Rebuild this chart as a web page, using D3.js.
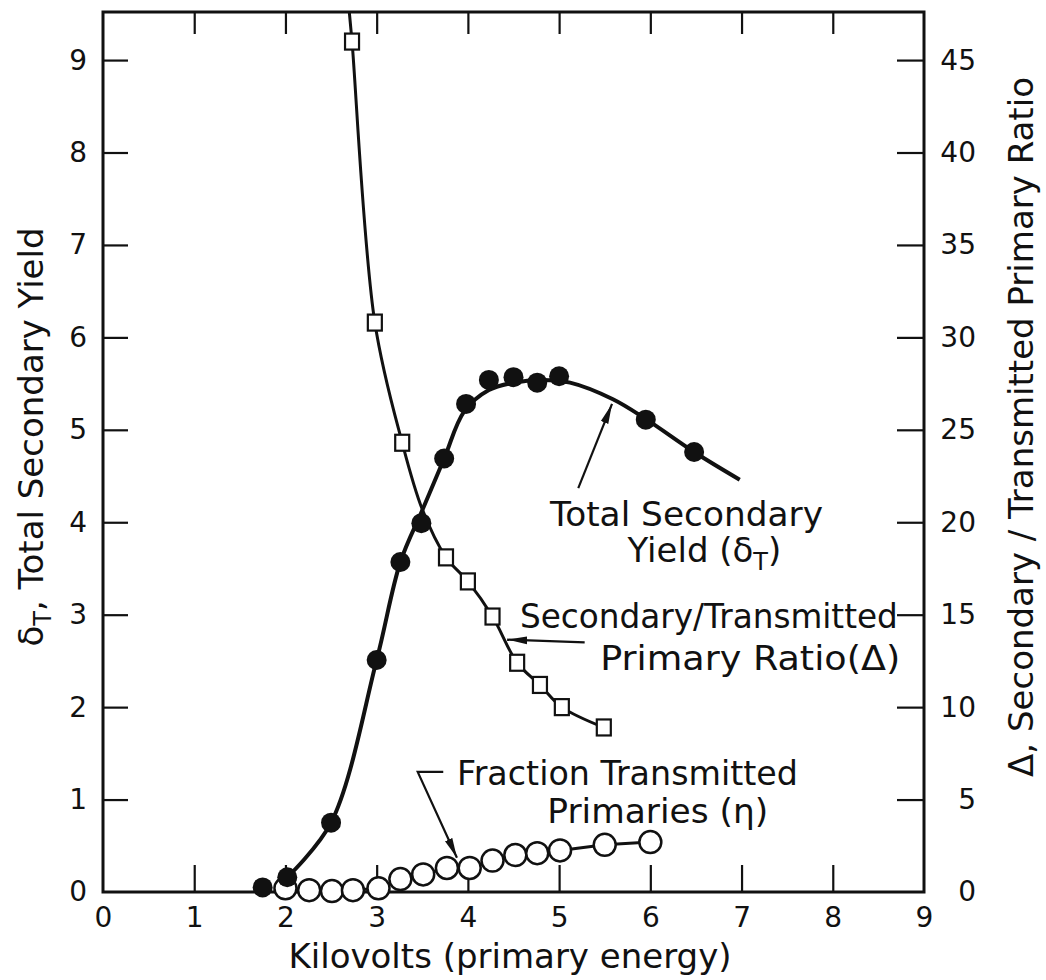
<!DOCTYPE html>
<html lang="en">
<head>
    <meta charset="UTF-8">
    <title>Secondary yield</title>
    <script src="https://d3js.org/d3.v7.min.js"></script>
    <style>
        body { margin: 0; background: #fff; }
        text {
            font-family: 'DejaVu Sans', sans-serif;
            fill: #111;
        }
        .tick text { font-size: 28px; }
        .tick line { stroke: #111; stroke-width: 2.2; }
    </style>
</head>
<body>
<script>
    const width  = 1046;
    const height = 980;

    // axes
    const xTicks     = [0, 1, 2, 3, 4, 5, 6, 7, 8, 9];
    const leftTicks  = [0, 1, 2, 3, 4, 5, 6, 7, 8, 9];
    const rightTicks = [0, 5, 10, 15, 20, 25, 30, 35, 40, 45];

    // total secondary yield (filled circles), left axis
    const yieldKV  = [1.75, 2.02, 2.5, 3.0, 3.26, 3.49, 3.74, 3.98, 4.23, 4.5, 4.76, 5.0, 5.95, 6.48];
    const yieldVal = [0.05, 0.16, 0.75, 2.51, 3.57, 3.99, 4.69, 5.28, 5.54, 5.57, 5.51, 5.58, 5.11, 4.76];
    // drawn curve through the yield points
    const yieldCurveKV  = [2.02, 2.5, 3.0, 3.26, 3.5, 3.74, 3.96, 4.23, 4.5, 4.8, 5.12, 5.59, 5.96, 6.48, 6.98];
    const yieldCurveVal = [0.16, 0.75, 2.51, 3.57, 4.13, 4.69, 5.2, 5.43, 5.51, 5.54, 5.51, 5.33, 5.11, 4.76, 4.46];

    // secondary / transmitted primary ratio (squares), right axis
    const deltaKV  = [2.73, 2.98, 3.28, 3.76, 4.0, 4.27, 4.54, 4.79, 5.03, 5.49];
    const deltaVal = [46.0, 30.8, 24.3, 18.1, 16.8, 14.9, 12.4, 11.2, 10.0, 8.9];
    const deltaCurveKV  = [2.70, 2.73, 2.98, 3.28, 3.5, 3.76, 4.0, 4.27, 4.54, 4.79, 5.03, 5.49];
    const deltaCurveVal = [47.6, 46.0, 30.8, 24.3, 20.7, 18.1, 16.8, 14.9, 12.4, 11.2, 10.0, 8.9];

    // fraction transmitted primaries (open circles), left axis
    const etaKV  = [2.0, 2.26, 2.51, 2.74, 3.02, 3.26, 3.51, 3.77, 4.02, 4.27, 4.52, 4.76, 5.01, 5.5, 6.0];
    const etaVal = [0.04, 0.02, 0.01, 0.02, 0.04, 0.14, 0.19, 0.26, 0.26, 0.34, 0.40, 0.42, 0.45, 0.51, 0.54];

    const x = d3.scaleLinear().domain([0, 9]).range([103, 924]);
    const yL = d3.scaleLinear().domain([0, 9.52]).range([892, 12]);
    const yR = d3.scaleLinear().domain([0, 47.6]).range([892, 12]);

    const zip = (a, b) => a.map((d, i) => [d, b[i]]);

    const svg = d3.select("body").append("svg").attr("width", width).attr("height", height);

    const defs = svg.append("defs");
    defs.append("marker")
        .attr("id", "head")
        .attr("viewBox", "0 0 20 10")
        .attr("refX", 20).attr("refY", 5)
        .attr("markerWidth", 20).attr("markerHeight", 10)
        .attr("markerUnits", "userSpaceOnUse")
        .attr("orient", "auto")
        .append("path").attr("d", "M0,1 L20,5 L0,9 Z").attr("fill", "#111");

    // frame
    svg.append("rect")
        .attr("x", x(0)).attr("y", yL(9.52))
        .attr("width", x(9) - x(0)).attr("height", yL(0) - yL(9.52))
        .attr("fill", "none").attr("stroke", "#111").attr("stroke-width", 3);

    const gx = svg.append("g").attr("transform", "translate(0," + yL(0) + ")")
        .call(d3.axisBottom(x).tickValues(xTicks).tickSize(-27).tickPadding(15).tickFormat(d3.format("d")));
    gx.selectAll(".tick line").filter(d => d === 0 || d === 9).remove();

    svg.append("g").attr("transform", "translate(0," + yL(9.52) + ")")
        .call(d3.axisTop(x).tickValues(xTicks.slice(1, -1)).tickSize(-22).tickFormat(""));

    const gl = svg.append("g").attr("transform", "translate(" + x(0) + ",0)")
        .call(d3.axisLeft(yL).tickValues(leftTicks).tickSize(-25).tickPadding(16).tickFormat(d3.format("d")));
    gl.selectAll(".tick line").filter(d => d === 0).remove();

    const gr = svg.append("g").attr("transform", "translate(" + x(9) + ",0)")
        .call(d3.axisRight(yR).tickValues(rightTicks).tickSize(-27).tickFormat(d3.format("d")));
    gr.selectAll(".tick line").filter(d => d === 0).remove();
    gr.selectAll(".tick text").attr("text-anchor", "end").attr("x", 52);

    svg.selectAll(".domain").remove();

    // axis titles
    svg.append("text")
        .attr("text-anchor", "middle")
        .attr("x", 510).attr("y", 968)
        .style("font-size", "34px")
        .text("Kilovolts (primary energy)");

    const lt = svg.append("text")
        .attr("text-anchor", "middle")
        .attr("transform", "translate(43,437) rotate(-90)")
        .style("font-size", "34px");
    lt.append("tspan").text("δ");
    lt.append("tspan").text("T").attr("dy", 8).style("font-size", "24px");
    lt.append("tspan").text(", Total Secondary Yield").attr("dy", -8);

    svg.append("text")
        .attr("text-anchor", "middle")
        .attr("transform", "translate(1033,427) rotate(-90)")
        .style("font-size", "34px")
        .text("Δ, Secondary / Transmitted Primary Ratio");

    // curves
    const lineL = d3.line().x(d => x(d[0])).y(d => yL(d[1]));
    const lineR = d3.line().x(d => x(d[0])).y(d => yR(d[1]));

    svg.append("path")
        .attr("d", lineL(zip(etaKV, etaVal)))
        .attr("fill", "none").attr("stroke", "#111").attr("stroke-width", 3);

    svg.append("path")
        .attr("d", lineL.curve(d3.curveCatmullRom)(zip(yieldCurveKV, yieldCurveVal)))
        .attr("fill", "none").attr("stroke", "#111").attr("stroke-width", 4);

    svg.append("path")
        .attr("d", lineR.curve(d3.curveCatmullRom)(zip(deltaCurveKV, deltaCurveVal)))
        .attr("fill", "none").attr("stroke", "#111").attr("stroke-width", 3);

    // points
    svg.selectAll(".eta")
        .data(zip(etaKV, etaVal))
        .enter().append("circle").attr("class", "eta")
        .attr("cx", d => x(d[0])).attr("cy", d => yL(d[1]))
        .attr("r", 11)
        .attr("fill", "#fff").attr("stroke", "#111").attr("stroke-width", 2.5);

    svg.selectAll(".delta")
        .data(zip(deltaKV, deltaVal))
        .enter().append("rect").attr("class", "delta")
        .attr("x", d => x(d[0]) - 7).attr("y", d => yR(d[1]) - 8)
        .attr("width", 14).attr("height", 16)
        .attr("fill", "#fff").attr("stroke", "#111").attr("stroke-width", 2.2);

    svg.selectAll(".yield")
        .data(zip(yieldKV, yieldVal))
        .enter().append("circle").attr("class", "yield")
        .attr("cx", d => x(d[0])).attr("cy", d => yL(d[1]))
        .attr("r", 10)
        .attr("fill", "#111");

    // annotations (kV, left-axis units), w = printed width in px
    const notes = [
        {t: "Total  Secondary", kv: 4.90, v: 3.96, w: 273},
        {t: "Secondary/Transmitted", kv: 4.57, v: 2.86, w: 378},
        {t: "Primary  Ratio(Δ)", kv: 5.45, v: 2.40, w: 300},
        {t: "Fraction  Transmitted", kv: 3.88, v: 1.16, w: 341},
        {t: "Primaries (η)", kv: 4.87, v: 0.75, w: 221}
    ];
    notes.forEach(n => {
        svg.append("text")
            .attr("x", x(n.kv)).attr("y", yL(n.v))
            .attr("textLength", n.w).attr("lengthAdjust", "spacingAndGlyphs")
            .style("font-size", "34px")
            .text(n.t);
    });
    const yt = svg.append("text")
        .attr("x", x(5.75)).attr("y", yL(3.57))
        .style("font-size", "34px");
    yt.append("tspan").text("Yield (δ");
    yt.append("tspan").text("T").attr("dy", 8).style("font-size", "24px");
    yt.append("tspan").text(")").attr("dy", -8);

    const arrows = [
        [[5.21, 4.37], [5.58, 5.28]],
        [[5.28, 2.70], [4.43, 2.73]],
        [[3.73, 1.30], [3.45, 1.30], [3.88, 0.37]]
    ];
    arrows.forEach(a => {
        svg.append("path")
            .attr("d", d3.line().x(d => x(d[0])).y(d => yL(d[1]))(a))
            .attr("fill", "none").attr("stroke", "#111").attr("stroke-width", 2.2)
            .attr("marker-end", "url(#head)");
    });
</script>
</body>
</html>
